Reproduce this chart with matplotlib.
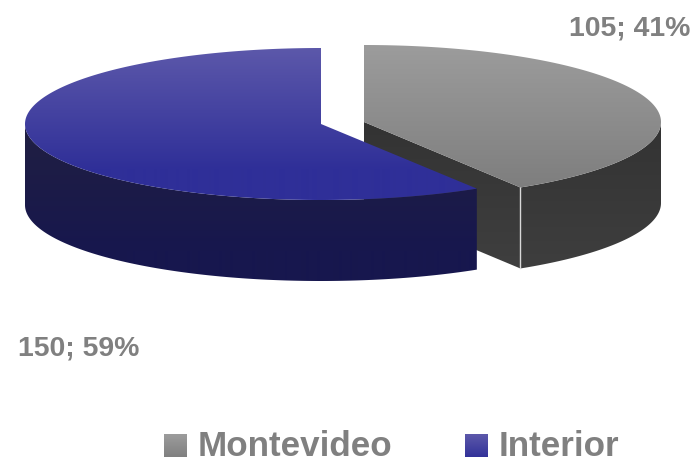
import numpy as np
import matplotlib
matplotlib.use("Agg")
import matplotlib.pyplot as plt
from matplotlib.colors import LinearSegmentedColormap
from matplotlib.patches import Polygon

# data
categories = ["Montevideo", "Interior"]
values = [105, 150]
percents = [41, 59]

plt.rcParams['font.family'] = ['Liberation Sans', 'DejaVu Sans']

# pixel layout, y goes down
centers = [(364, 122), (321, 124)]
radii_x = [297, 296]
radii_y = [77, 76]
depth = 81
top_colors = [("#9c9c9c", "#7e7e7e"), ("#5c58aa", "#2f2f98")]
side_colors = [("#333333", "#3f3f3f"), ("#201f42", "#17174e")]
text_color = "#808080"

fig = plt.figure(figsize=(6.95, 4.57), dpi=100)
ax = fig.add_axes([0, 0, 1, 1])


def gradient(points, colors, y0, y1, zorder):
    # vertical gradient clipped to a polygon, flat colour past y0 and y1
    cmap = LinearSegmentedColormap.from_list("g", colors)
    poly = Polygon(points, closed=True, fc="none", ec="none", transform=ax.transData)
    ax.add_patch(poly)
    ys = np.arange(0, 480)
    shade = np.clip((ys - y0) / (y1 - y0), 0, 1).reshape(-1, 1)
    img = ax.imshow(shade, cmap=cmap, vmin=0, vmax=1, aspect="auto",
                    extent=[0, 695, 480, 0], zorder=zorder, interpolation="bilinear")
    img.set_clip_path(poly)


def rim(i, a0, a1):
    # a measured clockwise from the top of the pie
    a = np.radians(np.linspace(a0, a1, 200))
    return np.column_stack([centers[i][0] + radii_x[i] * np.sin(a),
                            centers[i][1] - radii_y[i] * np.cos(a)])


total = sum(values)
starts = [0, values[0] / total * 360]
ends = [values[0] / total * 360, 360]

# grey slice
c = centers[0]
edge = rim(0, starts[0], ends[0])
end_pt = edge[-1]
cut = [c, end_pt, end_pt + [0, depth], (c[0], c[1] + depth)]
gradient(cut, side_colors[0], c[1], end_pt[1] + depth, 1)
front = rim(0, 90, ends[0])
gradient(np.vstack([front, front[::-1] + [0, depth]]), side_colors[0], c[1], c[1] + 77 + depth, 1)
ax.plot([end_pt[0], end_pt[0]], [end_pt[1], end_pt[1] + depth], color="#d8d8d8", lw=1, zorder=2)
gradient(np.vstack([[c], edge]), top_colors[0], c[1] - 77, end_pt[1], 3)

# blue slice
c = centers[1]
edge = rim(1, starts[1], ends[1])
front = rim(1, starts[1], 270)
gradient(np.vstack([front, front[::-1] + [0, depth]]), side_colors[1], c[1] + 5, c[1] + 76 + depth - 30, 4)
gradient(np.vstack([[c], edge]), top_colors[1], c[1] - 76, c[1] + 45, 5)

# data labels
ax.text(630, 29, f"{values[0]}; {percents[0]}%", color=text_color, fontsize=20.4,
        fontweight="bold", ha="center", va="center", zorder=6)
ax.text(79, 349, f"{values[1]}; {percents[1]}%", color=text_color, fontsize=20.4,
        fontweight="bold", ha="center", va="center", zorder=6)

# legend, sits on the bottom of the image like the original
for x, name, cols in zip([164, 465], categories, top_colors):
    square = [(x, 434), (x + 23, 434), (x + 23, 460), (x, 460)]
    gradient(square, cols, 434, 458, 6)
    ax.text(x + 34, 456.5, name, color=text_color, fontsize=25.2, fontweight="bold",
            ha="left", va="baseline", zorder=6)

ax.set_xlim(0, 695)
ax.set_ylim(457, 0)
ax.axis("off")
fig.savefig("out.png", dpi=100, facecolor="white")
